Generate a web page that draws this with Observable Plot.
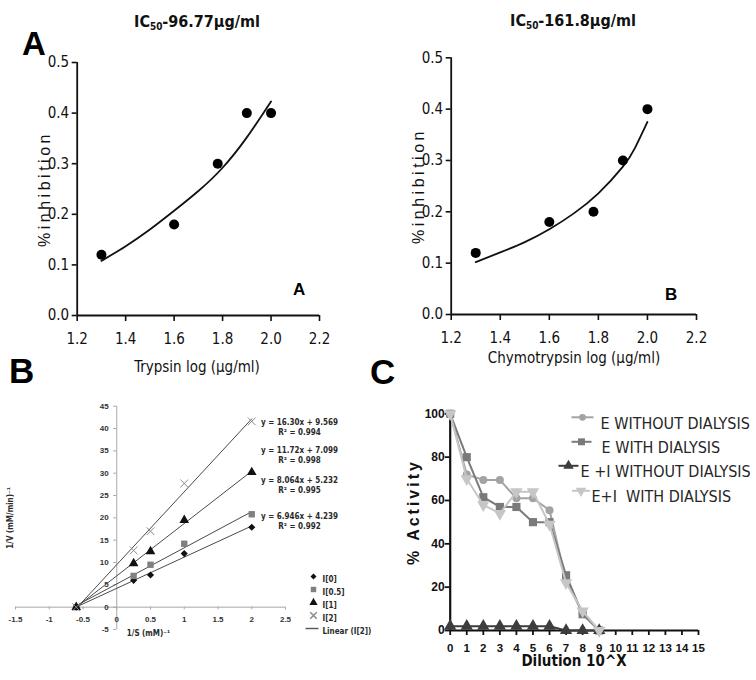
<!DOCTYPE html>
<html><head><meta charset="utf-8">
<script src="https://cdn.jsdelivr.net/npm/d3@7"></script>
<script src="https://cdn.jsdelivr.net/npm/@observablehq/plot@0.6"></script>
<style>
body{margin:0;background:#fff}
#fig{position:relative;width:756px;height:680px;background:#fff;overflow:hidden}
.t{position:absolute;white-space:nowrap;line-height:1;color:#111}
</style></head><body><div id="fig"></div>
<script>
// ---------- Panel A: trypsin ----------
const trypsinLog = [1.3, 1.6, 1.78, 1.9, 2.0];
const trypsinInhibition = [0.12, 0.18, 0.30, 0.40, 0.40];
const trypsinFitLog = [1.3, 1.4, 1.5, 1.6, 1.7, 1.8, 1.9, 2.0];
const trypsinFitInhibition = [0.108, 0.137, 0.170, 0.207, 0.246, 0.292, 0.352, 0.423];
// ---------- Panel A: chymotrypsin ----------
const chymoLog = [1.3, 1.6, 1.78, 1.9, 2.0];
const chymoInhibition = [0.12, 0.18, 0.20, 0.30, 0.40];
const chymoFitLog = [1.3, 1.4, 1.5, 1.6, 1.7, 1.8, 1.9, 1.95, 2.0];
const chymoFitInhibition = [0.102, 0.121, 0.141, 0.166, 0.197, 0.236, 0.288, 0.325, 0.375];
const inhibXTicks = [1.2, 1.4, 1.6, 1.8, 2.0, 2.2];
const inhibYTicks = [0, 0.1, 0.2, 0.3, 0.4, 0.5];
// ---------- Panel B: Lineweaver-Burk ----------
const lbSubstrate = [-0.6, 0.25, 0.5, 1, 2];
const lbSeries = ["I[0]", "I[0.5]", "I[1]", "I[2]"];
const lbI0 = [0, 6, 7.2, 12, 17.9];
const lbI05 = [0, 7, 9.5, 14.2, 20.8];
const lbI1 = [0, 9.8, 12.5, 19.5, 30.2];
const lbI2 = [0, 12.7, 17, 27.7, 41.6];
const lbEquations = ["y = 16.30x + 9.569", "y = 11.72x + 7.099", "y = 8.064x + 5.232", "y = 6.946x + 4.239"];
const lbR2 = ["R² = 0.994", "R² = 0.998", "R² = 0.995", "R² = 0.992"];
const lbXTicks = [-1.5, -1, -0.5, 0, 0.5, 1, 1.5, 2, 2.5];
const lbYTicks = [-5, 0, 5, 10, 15, 20, 25, 30, 35, 40, 45];
// ---------- Panel C: dilution ----------
const dilution = [0, 1, 2, 3, 4, 5, 6, 7, 8, 9];
const cSeries = ["E WITHOUT DIALYSIS", "E WITH DIALYSIS", "E +I WITHOUT DIALYSIS", "E+I  WITH DIALYSIS"];
const eWithout = [100, 72, 69.5, 69.5, 61, 61, 55.5, 23, 8, 0];
const eWith = [100, 80, 61.5, 57, 57, 50, 50, 25.5, 7.5, 0];
const eiWithout = [2, 2, 2, 2, 2, 2, 2, 0, 0, 0];
const eiWith = [100, 70, 58, 54, 64, 64, 49, 22, 9, 0];
const cXTicks = [0, 1, 2, 3, 4, 5, 6, 7, 8, 9, 10, 11, 12, 13, 14, 15];
const cYTicks = [0, 20, 40, 60, 80, 100];

const NARROW = '"Liberation Sans Narrow","Arial Narrow","DejaVu Sans Condensed",sans-serif';
const SANS = '"Liberation Sans",Arial,sans-serif';
const fig = document.getElementById("fig");

function place(svg, left, top) {
  svg.style.position = "absolute";
  svg.style.left = left + "px";
  svg.style.top = top + "px";
  fig.appendChild(svg);
}
function label(html, {x, base, fs, weight = "normal", family = NARROW, align = "center", ls = 0, color = "#111"}) {
  const d = document.createElement("div");
  d.className = "t";
  d.innerHTML = html;
  d.style.fontSize = fs + "px";
  d.style.fontWeight = weight;
  d.style.fontFamily = family;
  d.style.color = color;
  d.style.letterSpacing = ls + "px";
  d.style.top = (base - 0.8465 * fs) + "px";
  if (align === "center") { d.style.left = (x - 200) + "px"; d.style.width = "400px"; d.style.textAlign = "center"; }
  else d.style.left = x + "px";
  fig.appendChild(d);
}
function vlabel(text, {cx, cy, fs, weight = "normal", family = SANS, ls = 0, color = "#111"}) {
  const d = document.createElement("div");
  d.className = "t";
  d.textContent = text;
  d.style.fontSize = fs + "px";
  d.style.fontWeight = weight;
  d.style.fontFamily = family;
  d.style.color = color;
  d.style.letterSpacing = ls + "px";
  d.style.width = "240px";
  d.style.height = fs + "px";
  d.style.textAlign = "center";
  d.style.left = (cx - 120 + ls / 2) + "px";
  d.style.top = (cy - fs / 2) + "px";
  d.style.transform = "rotate(-90deg)";
  fig.appendChild(d);
}

// ---------- inhibition panels ----------
function inhibitionPlot(xs, ys, fxs, fys, m) {
  const pts = xs.map((x, i) => ({x, y: ys[i]}));
  const fit = fxs.map((x, i) => ({x, y: fys[i]}));
  return Plot.plot({
    width: 378, height: 380,
    marginLeft: m.left, marginRight: m.right, marginTop: m.top, marginBottom: m.bottom,
    x: {domain: [1.2, 2.2], label: null},
    y: {domain: [0, 0.5], label: null},
    style: {fontFamily: NARROW, fontSize: "15px", color: "#111", background: "transparent", overflow: "visible"},
    marks: [
      Plot.axisX({ticks: inhibXTicks, tickFormat: d3.format(".1f"), tickSize: 6, tickPadding: 12, strokeWidth: 1.6, label: null}),
      Plot.axisY({ticks: inhibYTicks, tickFormat: d3.format(".1f"), tickSize: 5, tickPadding: 3, strokeWidth: 1.6, label: null}),
      Plot.ruleX([1.2], {strokeWidth: 1.8}),
      Plot.ruleY([0], {strokeWidth: 1.8}),
      Plot.line(fit, {x: "x", y: "y", curve: "natural", strokeWidth: 1.8, stroke: "#111"}),
      Plot.dot(pts, {x: "x", y: "y", r: 5, fill: "#000"})
    ]
  });
}
place(inhibitionPlot(trypsinLog, trypsinInhibition, trypsinFitLog, trypsinFitInhibition,
  {left: 76.7, right: 59, top: 62, bottom: 65}), 0, 0);
place(inhibitionPlot(chymoLog, chymoInhibition, chymoFitLog, chymoFitInhibition,
  {left: 72.7, right: 60, top: 57.3, bottom: 66}), 378, 0);

// ---------- Lineweaver-Burk panel ----------
const lbValues = [lbI0, lbI05, lbI1, lbI2];
const lbTable = lbSeries.flatMap((s, i) => lbSubstrate.map((x, j) => ({series: s, x, y: lbValues[i][j]})));
const lbStyle = [
  {symbol: "diamond2", fill: "#111", r: 3.2},
  {symbol: "square", fill: "#808080", r: 3.6},
  {symbol: "triangle", fill: "#111", r: 3.6},
  {symbol: "times", stroke: "#8a8a8a", r: 3.6}
];
const hline = {draw(ctx, size) { const w = Math.sqrt(size / Math.PI); ctx.moveTo(-w, 0); ctx.lineTo(w, 0); }};
const lbText = {fontFamily: NARROW, fill: "#2a2a2a"};
const lbMarks = [
  Plot.ruleY([0], {stroke: "#a8a8a8"}),
  Plot.ruleX([0], {stroke: "#a8a8a8"}),
  Plot.ruleX(lbXTicks, {x: d => d, y1: 0, y2: -0.6, stroke: "#a8a8a8"}),
  Plot.ruleY(lbYTicks, {y: d => d, x1: -0.045, x2: 0, stroke: "#a8a8a8"}),
  Plot.text(lbXTicks, {x: d => d, y: 0, dy: 12, text: d => String(d)}),
  Plot.text(lbYTicks, {x: 0, y: d => d, dx: -8, textAnchor: "end", text: d => String(d)}),
  Plot.linearRegressionY(lbTable, {x: "x", y: "y", z: "series", ci: 0, stroke: "#4a4a4a", strokeWidth: 1})
];
lbSeries.forEach((s, i) => {
  const st = lbStyle[i];
  const opts = {x: "x", y: "y", symbol: st.symbol, r: st.r};
  if (st.fill) { opts.fill = st.fill; opts.stroke = "none"; } else { opts.stroke = st.stroke; opts.strokeWidth = 1; opts.fill = "none"; }
  lbMarks.push(Plot.dot(lbTable.filter(d => d.series === s), opts));
});
const eqDy = [13.3, 41.3, 71.3, 107.3];
lbEquations.forEach((t, i) => {
  lbMarks.push(Plot.text([t], {frameAnchor: "top-right", dx: 14, dy: eqDy[i], textAnchor: "middle", text: d => d, ...lbText}));
  lbMarks.push(Plot.text([lbR2[i]], {frameAnchor: "top-right", dx: 14, dy: eqDy[i] + 9.5, textAnchor: "middle", text: d => d, ...lbText}));
});
const legDy = [170.3, 183.3, 196.3, 209.3];
lbSeries.forEach((s, i) => {
  const st = lbStyle[i];
  const opts = {frameAnchor: "top-right", dx: 28, dy: legDy[i], symbol: st.symbol, r: st.r * 0.85};
  if (st.fill) { opts.fill = st.fill; opts.stroke = "none"; } else { opts.stroke = st.stroke; opts.fill = "none"; }
  lbMarks.push(Plot.dot([0], opts));
  lbMarks.push(Plot.text([s], {frameAnchor: "top-right", dx: 37, dy: legDy[i], textAnchor: "start", text: d => d, ...lbText}));
});
lbMarks.push(Plot.dot([0], {frameAnchor: "top-right", dx: 26.5, dy: 222.3, symbol: hline, r: 6.5, stroke: "#555", strokeWidth: 1.4, fill: "none"}));
lbMarks.push(Plot.text(["Linear (I[2])"], {frameAnchor: "top-right", dx: 37, dy: 222.3, textAnchor: "start", text: d => d, ...lbText}));
lbMarks.push(Plot.text(["1/V (mM/min)⁻¹"], {frameAnchor: "left", dx: -5, rotate: -90, textAnchor: "middle", text: d => d, ...lbText}));
lbMarks.push(Plot.text(["1/S (mM)⁻¹"], {frameAnchor: "bottom-left", dx: 133, dy: 6, textAnchor: "middle", text: d => d, ...lbText}));

place(Plot.plot({
  width: 378, height: 270, marginLeft: 15, marginRight: 93, marginTop: 25.7, marginBottom: 21,
  x: {domain: [-1.5, 2.5], axis: null},
  y: {domain: [-5, 45], axis: null},
  style: {fontFamily: SANS, fontSize: "8px", fontWeight: "bold", color: "#333", background: "transparent"},
  marks: lbMarks
}), 0, 380);

// ---------- Dilution panel ----------
const cValues = [eWithout, eWith, eiWithout, eiWith];
const cStyle = [
  {color: "#a3a3a3", symbol: "circle", r: 4},
  {color: "#7a7a7a", symbol: "square", r: 4.6},
  {color: "#3d3d3d", symbol: "triangle", r: 4.6},
  {color: "#c6c6c6", symbol: "triangle", r: 4.6, rotate: 180}
];
const cMarks = [
  Plot.axisX({ticks: cXTicks, tickSize: 5, tickPadding: 8, strokeWidth: 1.8, fontSize: 11.5, fontFamily: SANS, label: null}),
  Plot.axisY({ticks: cYTicks, tickSize: 5, tickPadding: 0.5, strokeWidth: 1.8, fontSize: 12, fontFamily: SANS, label: null}),
  Plot.ruleX([0], {strokeWidth: 2.2, stroke: "#111"}),
  Plot.ruleY([0], {strokeWidth: 2.2, stroke: "#111"})
];
cSeries.forEach((s, i) => {
  const st = cStyle[i];
  const tbl = dilution.map((x, j) => ({x, y: cValues[i][j]}));
  cMarks.push(Plot.line(tbl, {x: "x", y: "y", stroke: st.color, strokeWidth: 2}));
  cMarks.push(Plot.dot(tbl, {x: "x", y: "y", symbol: st.symbol, r: st.r, fill: st.color, stroke: "none", rotate: st.rotate || 0}));
});
const cLeg = [
  {sx: 132.3, half: 11, tx: 150.3, dy: 3.5},
  {sx: 131.3, half: 10, tx: 151.3, dy: 28},
  {sx: 118.3, half: 10, tx: 130.3, dy: 52},
  {sx: 130.8, half: 9, tx: 141.3, dy: 77}
];
cSeries.forEach((s, i) => {
  const st = cStyle[i], L = cLeg[i];
  cMarks.push(Plot.dot([0], {frameAnchor: "top-left", dx: L.sx, dy: L.dy, symbol: hline, r: L.half, stroke: st.color, strokeWidth: 2, fill: "none"}));
  cMarks.push(Plot.dot([0], {frameAnchor: "top-left", dx: L.sx, dy: L.dy, symbol: st.symbol, r: st.r * 0.85, fill: st.color, stroke: "none", rotate: st.rotate || 0}));
  cMarks.push(Plot.text([s], {frameAnchor: "top-left", dx: L.tx, dy: L.dy, textAnchor: "start", text: d => d, fontSize: 16, fontWeight: "normal", fill: "#262626"}));
});
place(Plot.plot({
  width: 378, height: 300, marginLeft: 71.7, marginRight: 58, marginTop: 33.3, marginBottom: 50,
  x: {domain: [0, 15], label: null},
  y: {domain: [0, 100], label: null},
  style: {fontFamily: NARROW, fontSize: "13px", fontWeight: "bold", color: "#111", background: "transparent"},
  marks: cMarks
}), 378, 380);

// ---------- titles, axis titles, panel letters ----------
const sub = s => `<span style="font-size:0.62em;position:relative;top:0.28em">${s}</span>`;
label(`IC${sub("50")}-96.77µg/ml`, {x: 197, base: 28, fs: 16, weight: "bold"});
label(`IC${sub("50")}-161.8µg/ml`, {x: 573, base: 27, fs: 16, weight: "bold"});
label("A", {x: 22, base: 55, fs: 33, weight: "bold", family: SANS, align: "left", color: "#000"});
label("B", {x: 9, base: 383, fs: 35, weight: "bold", family: SANS, align: "left", color: "#000"});
label("C", {x: 370, base: 384, fs: 35, weight: "bold", family: SANS, align: "left", color: "#000"});
label("A", {x: 293, base: 295, fs: 17, weight: "bold", family: SANS, align: "left", color: "#000"});
label("B", {x: 665, base: 300, fs: 17, weight: "bold", family: SANS, align: "left", color: "#000"});
label("Trypsin log (µg/ml)", {x: 197, base: 373, fs: 15});
label("Chymotrypsin log (µg/ml)", {x: 574, base: 364, fs: 15});
label("Dilution 10^X", {x: 574, base: 667, fs: 15, weight: "bold"});
vlabel("%inhibition", {cx: 43, cy: 189, fs: 16, ls: 3.5});
vlabel("%inhibition", {cx: 417, cy: 186, fs: 16, ls: 3.5});
vlabel("% Activity", {cx: 412, cy: 512, fs: 16, weight: "bold", ls: 3});
</script></body></html>
